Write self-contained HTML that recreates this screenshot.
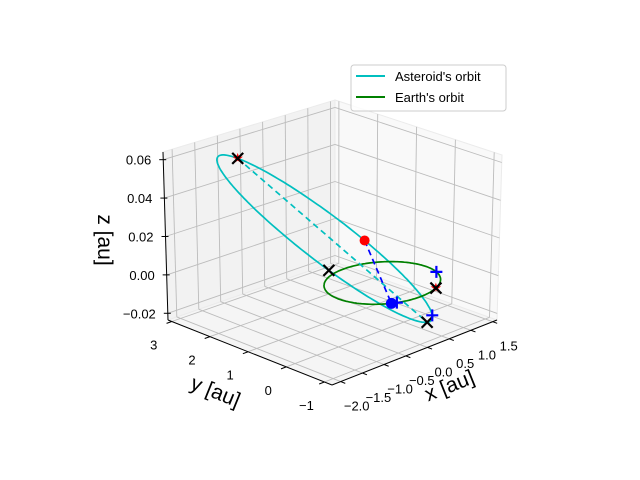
<!DOCTYPE html>
<html><head><meta charset="utf-8"><style>
html,body{margin:0;padding:0;background:#fff;}
svg{display:block;font-family:"Liberation Sans","DejaVu Sans",sans-serif;}
</style></head><body>
<svg id="chart" width="640" height="480" viewBox="0 0 640 480" xmlns="http://www.w3.org/2000/svg">
<g id="panes"></g>
<g id="grid"></g>
<g id="axes"></g>
<g id="series"></g>
<text x="0" y="0" font-size="21" text-anchor="middle" transform="translate(452,392) rotate(-22)">x [au]</text>
<text x="0" y="0" font-size="21" text-anchor="middle" transform="translate(213,398) rotate(22)">y [au]</text>
<text x="0" y="0" font-size="21" text-anchor="middle" transform="translate(98,240) rotate(90)">z [au]</text>
<g>
<rect x="351" y="65" width="155" height="46" rx="3" fill="#fff" fill-opacity="0.8" stroke="#ccc"/>
<g>
<line x1="356" y1="76" x2="385" y2="76" stroke="#00bfbf" stroke-width="2"/>
<text x="395" y="81" font-size="13">Asteroid's orbit</text></g>
<g>
<line x1="356" y1="97" x2="385" y2="97" stroke="#008000" stroke-width="2"/>
<text x="395" y="102" font-size="13">Earth's orbit</text></g>
</g>
</svg>
<script>
const xLim=[-2.2,1.6];
const yLim=[-1.2,3.1];
const zLim=[-0.0235,0.064];
const xTicks=[-2.0,-1.5,-1.0,-0.5,0.0,0.5,1.0,1.5];
const xTickLabels=["−2.0","−1.5","−1.0","−0.5","0.0","0.5","1.0","1.5"];
const yTicks=[-1,0,1,2,3];
const yTickLabels=["−1","0","1","2","3"];
const zTicks=[-0.02,0.0,0.02,0.04,0.06];
const zTickLabels=["−0.02","0.00","0.02","0.04","0.06"];
const earthRadius=[1.0];
const asteroidCenter=[-0.51,0.88,0.022];
const asteroidP=[-0.995,1.62,0.039];
const asteroidQ=[0.433,0.118,0.005];
const asteroidXMarks=[4.55,3.32];
const asteroidStarMarks=[0.49];
const asteroidPlusMarks=[2.95];
const asteroidNow=[1.80];
const asteroidApsideLine=[0.49,3.32];
const earthXMarks=[-64];
const earthStarMarks=[-64];
const earthPlusMarks=[-19,-116.5];
const earthNow=[-122];

const C={b00:[332,385],b10:[497,320],b01:[168,320],b11:[335,262],
         t00:[330,214],t10:[502,155],t01:[163,152],t11:[335,100]};
function proj(x,y,z){
  const u=(x-xLim[0])/(xLim[1]-xLim[0]), v=(y-yLim[0])/(yLim[1]-yLim[0]), w=(z-zLim[0])/(zLim[1]-zLim[0]);
  const r=[0,1].map(k=>{
    const b=C.b00[k]*(1-u)*(1-v)+C.b10[k]*u*(1-v)+C.b01[k]*(1-u)*v+C.b11[k]*u*v;
    const t=C.t00[k]*(1-u)*(1-v)+C.t10[k]*u*(1-v)+C.t01[k]*(1-u)*v+C.t11[k]*u*v;
    return b*(1-w)+t*w;});
  return r;
}
const NS="http://www.w3.org/2000/svg";
function mk(tag,attrs,parent){const e=document.createElementNS(NS,tag);for(const k in attrs)e.setAttribute(k,attrs[k]);parent.appendChild(e);return e;}
function pts(a){return a.map(p=>p[0].toFixed(1)+","+p[1].toFixed(1)).join(" ");}
const panes=document.getElementById('panes'),grid=document.getElementById('grid'),axes=document.getElementById('axes'),series=document.getElementById('series');
const [x0,x1]=xLim,[y0,y1]=yLim,[z0,z1]=zLim;
let e;
e=mk('polygon',{points:pts([proj(x0,y0,z0),proj(x1,y0,z0),proj(x1,y1,z0),proj(x0,y1,z0)]),fill:'#f5f5f5',stroke:'#f0f0f0'},panes);


e=mk('polygon',{points:pts([proj(x0,y1,z0),proj(x1,y1,z0),proj(x1,y1,z1),proj(x0,y1,z1)]),fill:'#f2f2f2',stroke:'#ebebeb'},panes);


e=mk('polygon',{points:pts([proj(x1,y0,z0),proj(x1,y1,z0),proj(x1,y1,z1),proj(x1,y0,z1)]),fill:'#f9f9f9',stroke:'#ebebeb'},panes);


const gs={stroke:'#bcbcbc','stroke-width':0.9,fill:'none'};
function gl(a,b,name){const l=mk('polyline',Object.assign({points:pts([a,b])},gs),grid);

}
xTicks.forEach(x=>{gl(proj(x,y0,z0),proj(x,y1,z0),'x-gridline');gl(proj(x,y1,z0),proj(x,y1,z1),'x-gridline');});
yTicks.forEach(y=>{gl(proj(x0,y,z0),proj(x1,y,z0),'y-gridline');gl(proj(x1,y,z0),proj(x1,y,z1),'y-gridline');});
zTicks.forEach(z=>{gl(proj(x0,y1,z),proj(x1,y1,z),'z-gridline');gl(proj(x1,y0,z),proj(x1,y1,z),'z-gridline');});
function axl(a,b,name){const l=mk('line',{x1:a[0],y1:a[1],x2:b[0],y2:b[1],stroke:'#000','stroke-width':1},axes);

}
axl(proj(x0,y0,z0),proj(x1,y0,z0),'x-axis-line');
axl(proj(x0,y0,z0),proj(x0,y1,z0),'y-axis-line');
axl(proj(x0,y1,z0),proj(x0,y1,z1),'z-axis-line');
function lab(p,txt,anchor,name){const t=mk('text',{x:p[0].toFixed(1),y:p[1].toFixed(1),'font-size':13,'text-anchor':anchor},axes);t.textContent=txt;

}
xTicks.forEach((x,i)=>{const a=proj(x,y0,z0),b=proj(x,y0-0.12,z0);axl(a,b,'x-tick');lab([a[0]+16,a[1]+29],xTickLabels[i],'middle','x-tick-label');});
yTicks.forEach((y,i)=>{const a=proj(x0,y,z0),b=proj(x0-0.12,y,z0);axl(a,b,'y-tick');lab([a[0]-18,a[1]+28],yTickLabels[i],'middle','y-tick-label');});
zTicks.forEach((z,i)=>{const a=proj(x0,y1,z);axl([a[0]-4,a[1]],[a[0]+3,a[1]],'z-tick');lab([a[0]-12,a[1]+5],zTickLabels[i],'end','z-tick-label');});

function ast(t){return proj(asteroidCenter[0]+asteroidP[0]*Math.cos(t)+asteroidQ[0]*Math.sin(t),
  asteroidCenter[1]+asteroidP[1]*Math.cos(t)+asteroidQ[1]*Math.sin(t),
  asteroidCenter[2]+asteroidP[2]*Math.cos(t)+asteroidQ[2]*Math.sin(t));}
function earth(deg){const a=deg*Math.PI/180;return proj(earthRadius[0]*Math.cos(a),earthRadius[0]*Math.sin(a),0.0015);}
const N=200;const ap=[],ep=[];
for(let i=0;i<=N;i++){ap.push(ast(2*Math.PI*i/N));ep.push(earth(360*i/N));}
e=mk('polyline',{points:pts(ap),fill:'none',stroke:'#00bfbf','stroke-width':1.7},series);


e=mk('polyline',{points:pts(ep),fill:'none',stroke:'#008000','stroke-width':1.7},series);


const la=ast(asteroidApsideLine[0]),lb=ast(asteroidApsideLine[1]);
e=mk('line',{x1:la[0],y1:la[1],x2:lb[0],y2:lb[1],stroke:'#00bfbf','stroke-width':1.7,'stroke-dasharray':'6,4'},series);


const rn=ast(asteroidNow[0]),bn=earth(earthNow[0]);
e=mk('line',{x1:rn[0],y1:rn[1],x2:bn[0],y2:bn[1],stroke:'#0000ff','stroke-width':1.7,'stroke-dasharray':'6,4'},series);


function star(p){let s=[];for(let i=0;i<10;i++){const r=i%2?2.2:5.5,a=-Math.PI/2+i*Math.PI/5;s.push([p[0]+r*Math.cos(a),p[1]+r*Math.sin(a)]);}
const m=mk('polygon',{points:pts(s),fill:'#ff0000'},series);

}
function xm(p){const d=5.5;const m=mk('path',{d:`M${p[0]-d},${p[1]-d}L${p[0]+d},${p[1]+d}M${p[0]-d},${p[1]+d}L${p[0]+d},${p[1]-d}`,stroke:'#000','stroke-width':2.2,fill:'none'},series);

}
function pm(p){const d=6;const m=mk('path',{d:`M${p[0]-d},${p[1]}L${p[0]+d},${p[1]}M${p[0]},${p[1]-d}L${p[0]},${p[1]+d}`,stroke:'#0000ff','stroke-width':2.2,fill:'none'},series);

}
asteroidStarMarks.forEach(t=>star(ast(t)));
earthStarMarks.forEach(a=>star(earth(a)));
asteroidXMarks.forEach(t=>xm(ast(t)));
asteroidStarMarks.forEach(t=>xm(ast(t)));
earthXMarks.forEach(a=>xm(earth(a)));
earthPlusMarks.forEach(a=>pm(earth(a)));
asteroidPlusMarks.forEach(t=>pm(ast(t)));
e=mk('circle',{cx:rn[0],cy:rn[1],r:5,fill:'#ff0000'},series);


e=mk('circle',{cx:bn[0],cy:bn[1],r:5.5,fill:'#0000ff'},series);


</script>
</body></html>
